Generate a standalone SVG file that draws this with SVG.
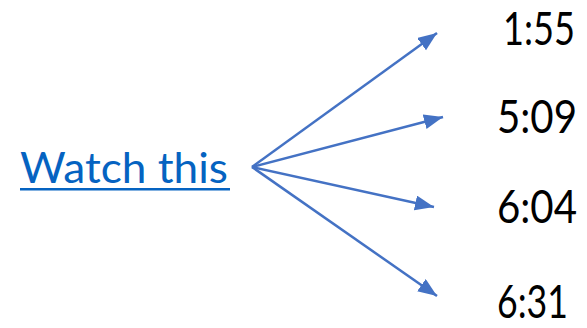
<svg xmlns="http://www.w3.org/2000/svg" width="587" height="328" viewBox="0 0 587 328">
<defs>
<style>
.lbl{font-family:Lato,"Open Sans","Liberation Sans",sans-serif;font-size:46px;fill:#000}
.link{font-family:Lato,"Open Sans","Liberation Sans",sans-serif;font-size:42px;fill:#0563C1}
.arr{stroke:#4472C4;stroke-width:2.5;fill:none;marker-end:url(#ah)}
</style>
<marker id="ah" markerUnits="userSpaceOnUse" markerWidth="22" markerHeight="16" refX="19" refY="7.5" orient="auto">
<path d="M0,0 L19,7.5 L0,15 Z" fill="#4472C4"/>
</marker>
</defs>
<g id="source">
<text class="link" x="20" y="183" textLength="208" lengthAdjust="spacingAndGlyphs">Watch this</text>
<rect x="20" y="188" width="210" height="2.5" fill="#0563C1"/>
</g>
<g id="connectors">
<line class="arr" x1="252" y1="167" x2="437" y2="33"/>
<line class="arr" x1="252" y1="167" x2="443" y2="117"/>
<line class="arr" x1="252" y1="167" x2="434" y2="207"/>
<line class="arr" x1="252" y1="167" x2="437" y2="296"/>
</g>
<g id="t1"><text class="lbl" x="503" y="45" textLength="72" lengthAdjust="spacingAndGlyphs">1:55</text></g>
<g id="t2"><text class="lbl" x="497" y="133" textLength="80" lengthAdjust="spacingAndGlyphs">5:09</text></g>
<g id="t3"><text class="lbl" x="497" y="223" textLength="80" lengthAdjust="spacingAndGlyphs">6:04</text></g>
<g id="t4"><text class="lbl" x="497" y="318" textLength="71" lengthAdjust="spacingAndGlyphs">6:31</text></g>
</svg>
